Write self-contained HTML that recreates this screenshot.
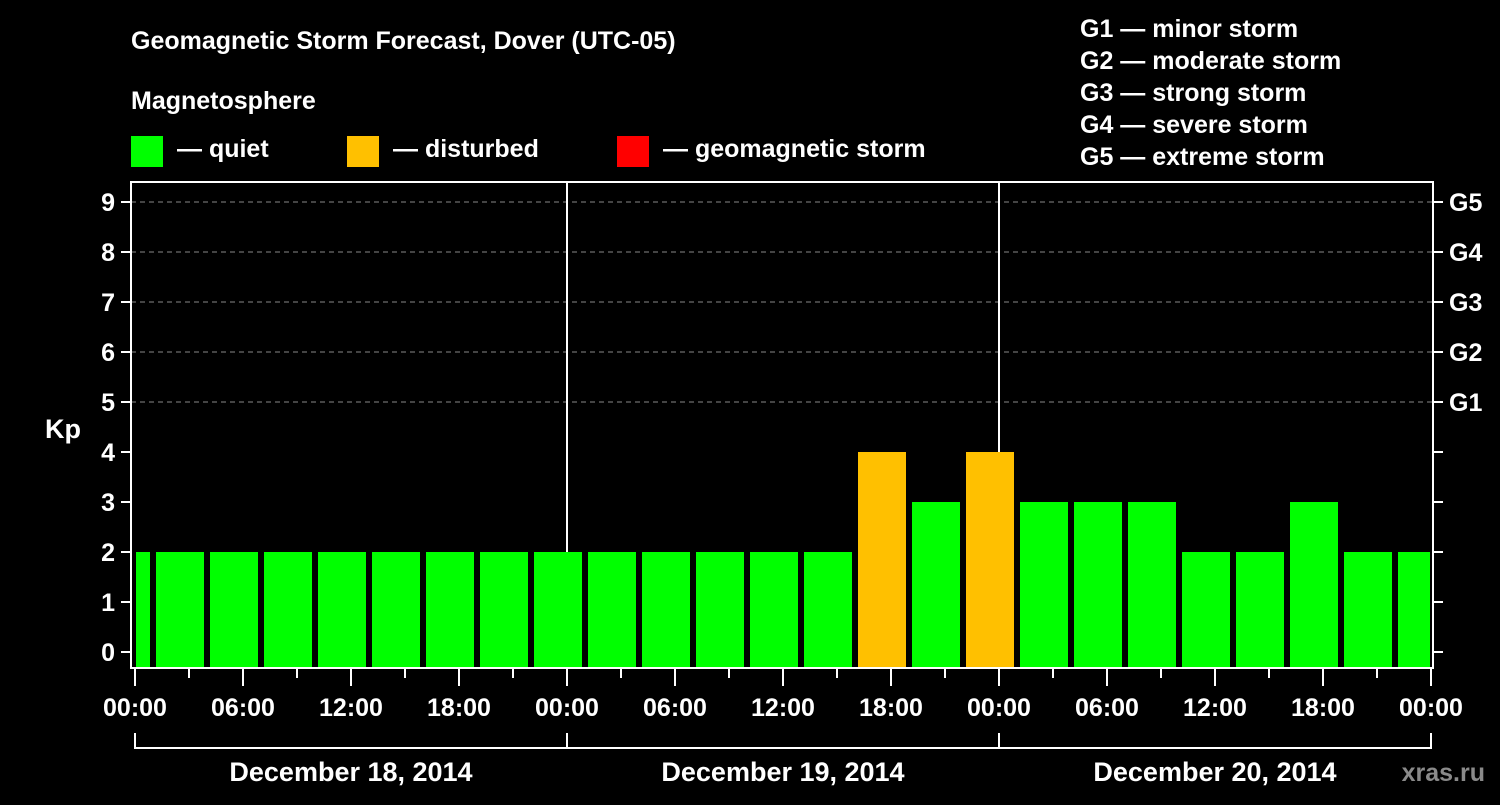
<!DOCTYPE html>
<html><head><meta charset="utf-8"><style>
html,body{margin:0;padding:0;background:#000;}
svg text{font-family:"Liberation Sans",Arial,sans-serif;font-weight:bold;fill:#fff;}
</style></head><body>
<svg id="chart" width="1500" height="800" viewBox="0 0 1500 800" xmlns="http://www.w3.org/2000/svg">
<rect x="0" y="0" width="1500" height="800" fill="#000"/>
<text x="131" y="49" font-size="25">Geomagnetic Storm Forecast, Dover (UTC-05)</text>
<text x="131" y="109" font-size="25">Magnetosphere</text>
<g><rect x="131" y="136" width="32" height="31" fill="#00ff00"/><text x="177" y="157" font-size="25">— quiet</text></g>
<g><rect x="347" y="136" width="32" height="31" fill="#ffc000"/><text x="393" y="157" font-size="25">— disturbed</text></g>
<g><rect x="617" y="136" width="32" height="31" fill="#ff0000"/><text x="663" y="157" font-size="25">— geomagnetic storm</text></g>
<g font-size="25">
<text x="1080" y="37">G1 — minor storm</text>
<text x="1080" y="69">G2 — moderate storm</text>
<text x="1080" y="101">G3 — strong storm</text>
<text x="1080" y="133">G4 — severe storm</text>
<text x="1080" y="165">G5 — extreme storm</text>
</g>
<g id="grid"></g>
<g id="bars"></g>
<g id="axes"></g>
<text x="63" y="438" font-size="27" text-anchor="middle">Kp</text>
<text x="1485" y="781" font-size="25" text-anchor="end" fill="#888" style="fill:#8a8a8a">xras.ru</text>
</svg>
<script>
const kpValues=[2,2,2,2,2,2,2,2,2,2,2,2,2,2,4,3,4,3,3,3,2,2,3,2,2];
const yTicks=[0,1,2,3,4,5,6,7,8,9];
const gLabels=["G1","G2","G3","G4","G5"];
const xTickLabels=["00:00","06:00","12:00","18:00","00:00","06:00","12:00","18:00","00:00","06:00","12:00","18:00","00:00"];
const dayLabels=["December 18, 2014","December 19, 2014","December 20, 2014"];
const NS="http://www.w3.org/2000/svg";
const X0=135,PX_H=18,Y0=652,PX_K=50,TOP=182,BOT=668,LEFT=131,RIGHT=1433,END=72;
const xs=h=>X0+h*PX_H, ys=v=>Y0-v*PX_K;
function mk(t,a,p){const e=document.createElementNS(NS,t);for(const k in a)e.setAttribute(k,a[k]);p.appendChild(e);return e;}
const grid=document.getElementById('grid'),bars=document.getElementById('bars'),axes=document.getElementById('axes');
for(let v=5;v<=9;v++){const l=mk('line',{x1:LEFT,x2:RIGHT,y1:ys(v),y2:ys(v),stroke:'#888','stroke-dasharray':'5,4','stroke-width':1},grid);

}
[24,48].forEach(h=>{const l=mk('line',{x1:xs(h),x2:xs(h),y1:TOP,y2:BOT,stroke:'#fff','stroke-width':2},grid);

});
kpValues.forEach((v,k)=>{
 let s=-2+3*k,e=s+3;
 let x1=xs(s)+3,x2=xs(e)-3;
 x1=Math.max(x1,xs(0)+1);x2=Math.min(x2,xs(END)-1);
 const col=v>=5?'#ff0000':(v>=4?'#ffc000':'#00ff00');
 const r=mk('rect',{x:x1,y:ys(v),width:x2-x1,height:BOT-ys(v),fill:col},bars);
 
 
});
mk('rect',{x:LEFT,y:TOP,width:RIGHT-LEFT,height:BOT-TOP,fill:'none',stroke:'#fff','stroke-width':2},axes);
yTicks.forEach(v=>{
 mk('line',{x1:121,x2:LEFT,y1:ys(v),y2:ys(v),stroke:'#fff','stroke-width':2},axes);
 mk('line',{x1:RIGHT,x2:1443,y1:ys(v),y2:ys(v),stroke:'#fff','stroke-width':2},axes);
 const t=mk('text',{x:115,y:ys(v)+9,'font-size':25,'text-anchor':'end'},axes);t.textContent=v;
 
 
});
gLabels.forEach((g,i)=>{const t=mk('text',{x:1449,y:ys(5+i)+9,'font-size':25},axes);t.textContent=g;
 
 });
for(let h=0;h<=END;h+=3){const major=h%6===0;
 mk('line',{x1:xs(h),x2:xs(h),y1:BOT,y2:major?686:678,stroke:'#fff','stroke-width':2},axes);}
xTickLabels.forEach((s,i)=>{const t=mk('text',{x:xs(i*6),y:716,'font-size':25,'text-anchor':'middle'},axes);t.textContent=s;
 
 });
mk('line',{x1:xs(0),x2:xs(END),y1:748,y2:748,stroke:'#fff','stroke-width':2},axes);
[0,24,48,72].forEach(h=>mk('line',{x1:xs(h),x2:xs(h),y1:733,y2:749,stroke:'#fff','stroke-width':2},axes));
dayLabels.forEach((d,i)=>{const t=mk('text',{x:xs(i*24+12),y:781,'font-size':27,'text-anchor':'middle'},axes);t.textContent=d;
 
 });
</script>
</body></html>
